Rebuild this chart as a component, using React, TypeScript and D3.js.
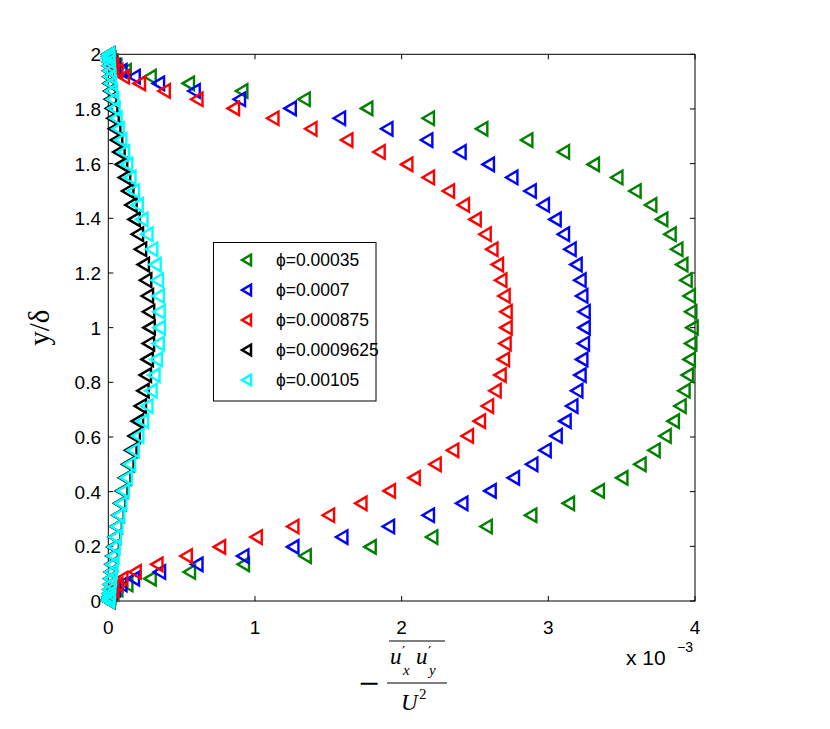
import React from 'react';
import * as d3 from 'd3';

// y/δ grid shared by all series (bottom wall -> top wall)
const yGrid = [0, 0.0017, 0.0068, 0.0152, 0.0270, 0.0420, 0.0603, 0.0818, 0.1064, 0.1340, 0.1645, 0.1979, 0.2340, 0.2726, 0.3138, 0.3572, 0.4028, 0.4505, 0.5, 0.5512, 0.6039, 0.6580, 0.7132, 0.7694, 0.8264, 0.8839, 0.9419, 1.0, 1.0581, 1.1161, 1.1736, 1.2306, 1.2868, 1.3420, 1.3961, 1.4488, 1.5, 1.5495, 1.5972, 1.6428, 1.6862, 1.7274, 1.7660, 1.8021, 1.8355, 1.8660, 1.8936, 1.9182, 1.9397, 1.9580, 1.9730, 1.9848, 1.9932, 1.9983, 2.0];

// -u'x u'y / U^2 values, in units of 1e-3
const phi00035 = [0, 0.001, 0.003, 0.01, 0.03, 0.057, 0.125, 0.284, 0.552, 0.920, 1.341, 1.784, 2.204, 2.575, 2.879, 3.136, 3.340, 3.500, 3.624, 3.720, 3.795, 3.851, 3.897, 3.924, 3.947, 3.960, 3.970, 3.979,
  3.970, 3.960, 3.938, 3.909, 3.875, 3.829, 3.772, 3.697, 3.590, 3.466, 3.306, 3.102, 2.852, 2.545, 2.181, 1.761, 1.334, 0.909, 0.545, 0.284, 0.114, 0.05, 0.025, 0.01, 0.003, 0.001, 0];
const phi0007 = [0, 0.001, 0.002, 0.005, 0.015, 0.04, 0.085, 0.170, 0.348, 0.603, 0.916, 1.257, 1.591, 1.909, 2.181, 2.409, 2.602, 2.761, 2.886, 2.977, 3.052, 3.113, 3.159, 3.193, 3.215, 3.227, 3.238, 3.243,
  3.243, 3.227, 3.215, 3.188, 3.147, 3.102, 3.045, 2.965, 2.875, 2.750, 2.590, 2.397, 2.170, 1.898, 1.575, 1.239, 0.893, 0.584, 0.341, 0.175, 0.085, 0.04, 0.015, 0.005, 0.002, 0.001, 0];
const phi000875 = [0, 0.001, 0.003, 0.006, 0.012, 0.03, 0.057, 0.091, 0.182, 0.330, 0.530, 0.757, 1.007, 1.257, 1.500, 1.721, 1.915, 2.084, 2.227, 2.347, 2.447, 2.529, 2.584, 2.636, 2.670, 2.693, 2.704, 2.711,
  2.711, 2.697, 2.675, 2.652, 2.614, 2.568, 2.500, 2.420, 2.318, 2.181, 2.034, 1.845, 1.625, 1.380, 1.121, 0.852, 0.603, 0.380, 0.211, 0.102, 0.057, 0.03, 0.012, 0.006, 0.003, 0.001, 0];
const phi0009625 = [0, 0, 0.001, 0.002, 0.003, 0.005, 0.008, 0.011, 0.015, 0.020, 0.026, 0.033, 0.042, 0.053, 0.066, 0.078, 0.092, 0.112, 0.133, 0.153, 0.176, 0.198, 0.218, 0.236, 0.252, 0.265, 0.273, 0.278,
  0.274, 0.266, 0.254, 0.238, 0.219, 0.198, 0.176, 0.154, 0.132, 0.110, 0.090, 0.072, 0.056, 0.043, 0.032, 0.023, 0.016, 0.011, 0.007, 0.005, 0.003, 0.002, 0.001, 0.001, 0, 0, 0];
const phi00105 = [0, 0, 0.001, 0.002, 0.004, 0.006, 0.009, 0.013, 0.018, 0.024, 0.031, 0.038, 0.045, 0.057, 0.070, 0.084, 0.100, 0.120, 0.143, 0.168, 0.200, 0.232, 0.262, 0.290, 0.310, 0.326, 0.339, 0.347,
  0.345, 0.340, 0.333, 0.318, 0.295, 0.262, 0.228, 0.196, 0.170, 0.146, 0.124, 0.103, 0.084, 0.066, 0.051, 0.038, 0.028, 0.020, 0.014, 0.009, 0.006, 0.004, 0.002, 0.001, 0.001, 0, 0];

const seriesLabels = ['ϕ=0.00035', 'ϕ=0.0007', 'ϕ=0.000875', 'ϕ=0.0009625', 'ϕ=0.00105'];
const seriesColors = ['#008000', '#0000ff', '#ff0000', '#000000', '#00ffff'];
const seriesValues = [phi00035, phi0007, phi000875, phi0009625, phi00105];

const xTicks = [0, 1, 2, 3, 4];
const yTicks = [0, 0.2, 0.4, 0.6, 0.8, 1, 1.2, 1.4, 1.6, 1.8, 2];
const yTickLabels = ['0', '0.2', '0.4', '0.6', '0.8', '1', '1.2', '1.4', '1.6', '1.8', '2'];

const W = 830, H = 729;
const L = 108.3, R = 695, T = 54.3, B = 601;
const SANS = '"Liberation Sans", Arial, Helvetica, sans-serif';
const SERIF = '"Liberation Serif", "Times New Roman", serif';

function tri(w: number, h: number) {
  const p = d3.path();
  p.moveTo(-w / 2, 0);
  p.lineTo(w / 2, -h / 2);
  p.lineTo(w / 2, h / 2);
  p.closePath();
  return p.toString();
}

export default function App() {
  const x = d3.scaleLinear().domain([0, 4]).range([L, R]);
  const y = d3.scaleLinear().domain([0, 2]).range([B, T]);
  const marker = tri(11.5, 13.5);
  const legMarker = tri(9, 10.5);
  const tl = 5;

  const legX = 213.5, legY = 242.5, legW = 162.5, legH = 158.5;

  return (
    <svg width={W} height={H} style={{ position: 'absolute', left: 0, top: 0, background: '#fff' }}
      xmlns="http://www.w3.org/2000/svg">
      <rect x={0} y={0} width={W} height={H} fill="#fff" />
      {/* axes box */}
      <rect x={L} y={T} width={R - L} height={B - T} fill="none" stroke="#000" strokeWidth={1} />
      {/* ticks */}
      {xTicks.map((t) => (
        <g key={'xt' + t}>
          <line x1={x(t)} x2={x(t)} y1={B} y2={B - tl} stroke="#000" />
          <line x1={x(t)} x2={x(t)} y1={T} y2={T + tl} stroke="#000" />
          <text x={x(t)} y={634} textAnchor="middle" fontFamily={SANS} fontSize={19}>{t}</text>
        </g>
      ))}
      {yTicks.map((t, i) => (
        <g key={'yt' + t}>
          <line x1={L} x2={L + tl} y1={y(t)} y2={y(t)} stroke="#000" />
          <line x1={R} x2={R - tl} y1={y(t)} y2={y(t)} stroke="#000" />
          <text x={101} y={y(t) + 7} textAnchor="end" fontFamily={SANS} fontSize={19}>{yTickLabels[i]}</text>
        </g>
      ))}
      {/* exponent */}
      <text x={626} y={665} fontFamily={SANS} fontSize={21}>x 10</text>
      <text x={677} y={652} fontFamily={SANS} fontSize={14}>−3</text>

      {/* data */}
      {seriesValues.map((vals, si) => (
        <g key={'s' + si}>
          {vals.map((v, j) => (
            <path key={j} d={marker} transform={`translate(${x(v)},${y(yGrid[j])})`}
              fill="none" stroke={seriesColors[si]} strokeWidth={2.4} strokeLinejoin="miter" />
          ))}
        </g>
      ))}

      {/* legend */}
      <rect x={legX} y={legY} width={legW} height={legH} fill="#fff" stroke="#000" strokeWidth={1} />
      {seriesLabels.map((lab, i) => (
        <g key={'lg' + i}>
          <path d={legMarker} transform={`translate(${246.5},${260 + i * 30})`} fill="none"
            stroke={seriesColors[i]} strokeWidth={2.5} />
          <text x={276} y={266 + i * 30} fontFamily={SANS} fontSize={17.5}>{lab}</text>
        </g>
      ))}

      {/* y label */}
      <text transform={`translate(49,${(T + B) / 2}) rotate(-90)`} textAnchor="middle"
        fontFamily={SERIF} fontSize={29}>y/δ</text>

      {/* x label: -\frac{\overline{u'_x u'_y}}{U^2} */}
      <text x={369} y={692} textAnchor="middle" fontFamily={'"DejaVu Serif", serif'} fontSize={27}>−</text>
      <line x1={387} x2={447} y1={683} y2={683} stroke="#000" strokeWidth={1.2} />
      <line x1={389} x2={445} y1={641} y2={641} stroke="#000" strokeWidth={1.2} />
      <text x={390} y={664} fontFamily={SERIF} fontStyle="italic" fontSize={23}>u</text>
      <text x={402} y={657} fontFamily={'"DejaVu Serif", serif'} fontSize={15}>′</text>
      <text x={403} y={675} fontFamily={SERIF} fontStyle="italic" fontSize={15}>x</text>
      <text x={416} y={664} fontFamily={SERIF} fontStyle="italic" fontSize={23}>u</text>
      <text x={428} y={657} fontFamily={'"DejaVu Serif", serif'} fontSize={15}>′</text>
      <text x={429} y={675} fontFamily={SERIF} fontStyle="italic" fontSize={15}>y</text>
      <text x={401} y={710} fontFamily={SERIF} fontStyle="italic" fontSize={23}>U</text>
      <text x={419} y={699} fontFamily={SERIF} fontSize={15}>2</text>
    </svg>
  );
}
